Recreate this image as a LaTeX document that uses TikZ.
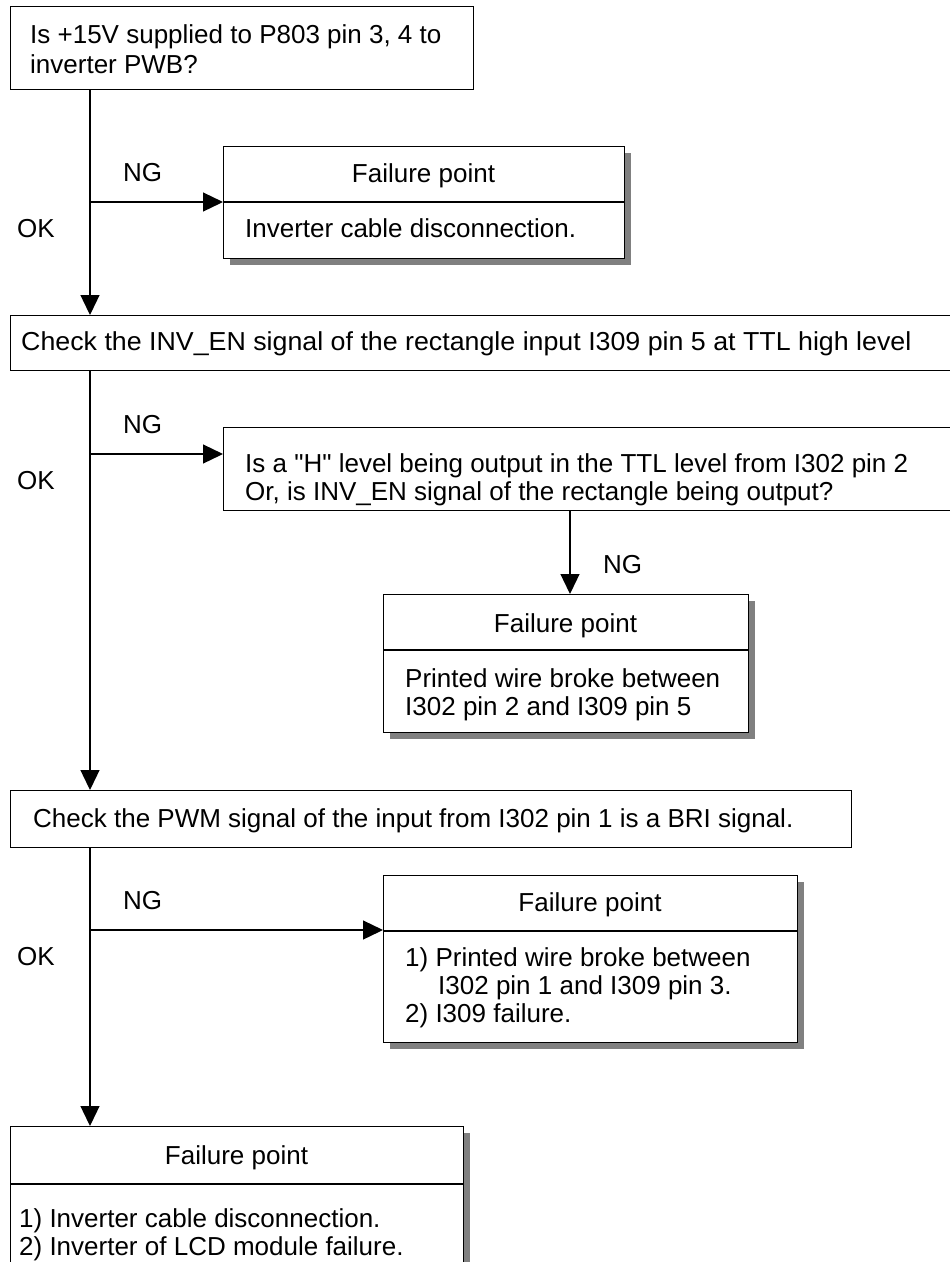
\documentclass[tikz,border=0pt]{standalone}
\usepackage{fontspec}
\setmainfont{Liberation Sans}[Ligatures=TeXOff]
\usetikzlibrary{arrows.meta,shadows,calc}
\newcommand\dfont{\fontsize{26}{30}\selectfont}
\definecolor{shadowgray}{RGB}{128,128,128}
\tikzset{
  box/.style={draw, line width=1.1pt, fill=white, inner sep=0pt, anchor=north west},
  fbox/.style={box, drop shadow={shadow xshift=6pt, shadow yshift=-6pt, fill=shadowgray, opacity=1}},
  txt/.style={inner sep=0pt, anchor=base west, font=\dfont},
  ctxt/.style={inner sep=0pt, anchor=base, font=\dfont},
  arr/.style={line width=1.3pt, -{Triangle[length=20pt,width=19pt]}},
  divline/.style={line width=1.1pt},
}
\begin{document}
\begin{tikzpicture}[x=1pt,y=-1pt]
\useasboundingbox (0,0) rectangle (950,1262);
% boxes
\node[box,  minimum width=463pt, minimum height=83pt]  (q1) at (10,6) {};
\node[fbox, minimum width=401pt, minimum height=112pt] (f1) at (223,146) {};
\node[box,  minimum width=940pt, minimum height=55pt]  (q2) at (10,315) {};
\node[box,  minimum width=727pt, minimum height=83pt]  (q3) at (223,427) {};
\node[fbox, minimum width=365pt, minimum height=138pt] (f2) at (383,594) {};
\node[box,  minimum width=841pt, minimum height=57pt]  (q4) at (10,790) {};
\node[fbox, minimum width=414pt, minimum height=167pt] (f3) at (383,875) {};
\node[fbox, minimum width=453pt, minimum height=160pt] (f4) at (10,1126) {};
% dividers
\draw[divline] ($(f1.north west)+(0,56)$) -- ($(f1.north east)+(0,56)$);
\draw[divline] ($(f2.north west)+(0,56)$) -- ($(f2.north east)+(0,56)$);
\draw[divline] ($(f3.north west)+(0,56)$) -- ($(f3.north east)+(0,56)$);
\draw[divline] ($(f4.north west)+(0,58)$) -- ($(f4.north east)+(0,58)$);
% texts
\node[txt] (t1a) at (30,43) {Is +15V supplied to P803 pin 3, 4 to};
\node[txt] (t1b) at (30,73) {inverter PWB?};
\node[ctxt] (tf1) at (423.5,182) {Failure point};
\node[txt] (tf1a) at (245,237) {Inverter cable disconnection.};
\node[txt] (t2) at (21,350) {\scalebox{1.03}[1]{Check the INV\_EN signal of the rectangle input I309 pin 5 at TTL high level}};
\node[txt] (t3a) at (245,472) {Is a "H" level being output in the TTL level from I302 pin 2};
\node[txt] (t3b) at (245,500) {Or, is INV\_EN signal of the rectangle being output?};
\node[ctxt] (tf2) at (565.5,632) {Failure point};
\node[txt] (tf2a) at (405,687) {Printed wire broke between};
\node[txt] (tf2b) at (405,715) {I302 pin 2 and I309 pin 5};
\node[txt] (t4) at (33,827) {Check the PWM signal of the input from I302 pin 1 is a BRI signal.};
\node[ctxt] (tf3) at (590,911) {Failure point};
\node[txt] (tf3a) at (405,966) {1) Printed wire broke between};
\node[txt] (tf3b) at (438,994) {I302 pin 1 and I309 pin 3.};
\node[txt] (tf3c) at (405,1022) {2) I309 failure.};
\node[ctxt] (tf4) at (236.5,1164) {Failure point};
\node[txt] (tf4a) at (19,1227) {1) Inverter cable disconnection.};
\node[txt] (tf4b) at (19,1255) {2) Inverter of LCD module failure.};
% labels
\node[txt] (ng1) at (123,181) {NG};
\node[txt] (ok1) at (17,237) {OK};
\node[txt] (ng2) at (123,433) {NG};
\node[txt] (ok2) at (17,489) {OK};
\node[txt] (ng3) at (603,573) {NG};
\node[txt] (ng4) at (123,909) {NG};
\node[txt] (ok3) at (17,965) {OK};
% main flow
\draw[arr] ($(q1.south west)+(80,0)$) -- ($(q2.north west)+(80,0)$);
\draw[arr] ($(q2.south west)+(80,0)$) -- ($(q4.north west)+(80,0)$);
\draw[arr] ($(q4.south west)+(80,0)$) -- ($(f4.north west)+(80,0)$);
% branches
\coordinate (b1) at (90,202);
\coordinate (b2) at (90,454);
\coordinate (b3) at (90,930);
\draw[arr] (b1) -- (b1 -| f1.west);
\draw[arr] (b2) -- (b2 -| q3.west);
\draw[arr] (b3) -- (b3 -| f3.west);
\coordinate (q3o) at ($(q3.south west)+(347,0)$);
\draw[arr] (q3o) -- (q3o |- f2.north);
\end{tikzpicture}
\end{document}
